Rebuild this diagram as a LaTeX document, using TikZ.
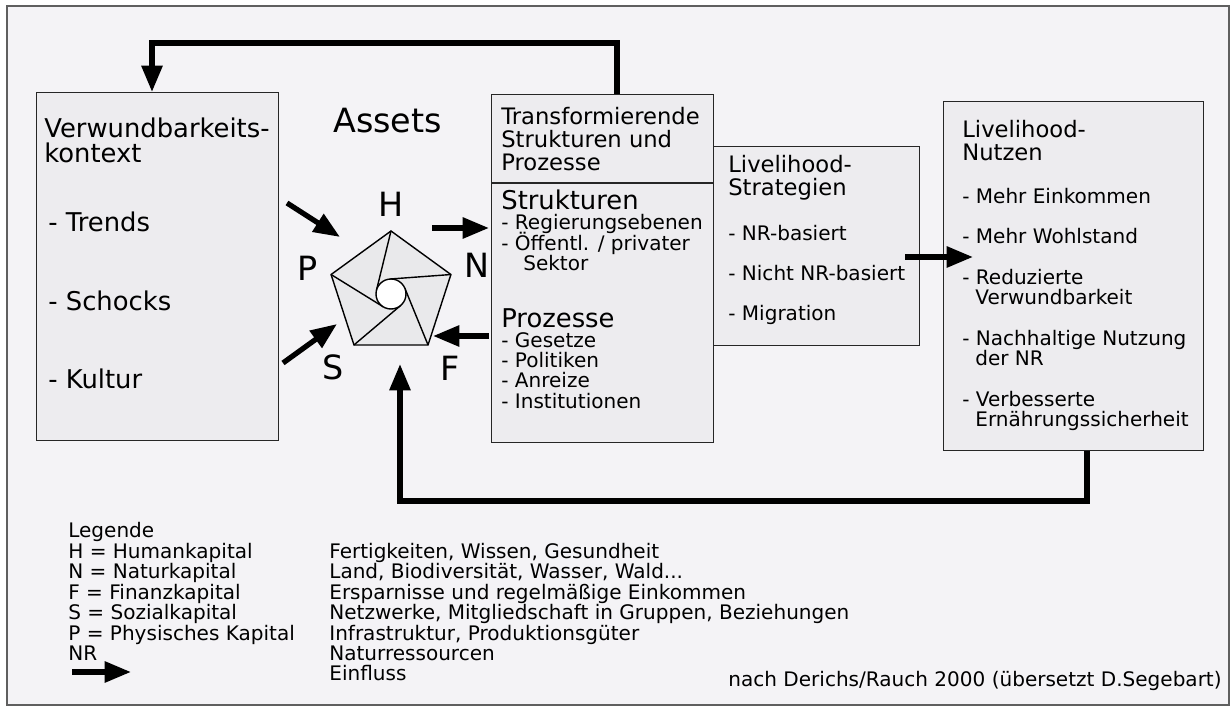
\documentclass[tikz,border=0pt]{standalone}
\usepackage{fontspec}
\setmainfont{DejaVu Sans}
\usetikzlibrary{arrows.meta,calc}

\definecolor{bgcol}{RGB}{244,243,246}
\definecolor{boxcol}{RGB}{237,236,239}
\definecolor{pentcol}{RGB}{233,233,235}
\definecolor{framecol}{RGB}{95,95,95}

\newcommand{\txtS}{\fontsize{11.4}{12}\selectfont}
\newcommand{\txtM}{\fontsize{12.9}{13.5}\selectfont}
\newcommand{\txtL}{\fontsize{14.7}{15.5}\selectfont}
\newcommand{\txtXL}{\fontsize{19}{20}\selectfont}

\tikzset{
  box/.style={draw=black!85, fill=boxcol, line width=0.6pt, anchor=north west, inner sep=0pt},
  txt/.style={anchor=base west, inner sep=0pt, font=\txtS},
  head/.style={txt, font=\txtM},
  big/.style={txt, font=\txtL},
  capital/.style={inner sep=0pt, font=\txtXL},
  arr/.style={line width=3pt, -{Triangle[length=15pt,width=11.5pt]}},
}

\begin{document}
\begin{tikzpicture}[x=0.02cm,y=0.02cm]
  % background and frame
  \fill[white] (0,0) rectangle (1232,-709);
  \draw[framecol, fill=bgcol, line width=1pt] (7,-6) rectangle (1229,-705);

  % boxes
  \node[box, minimum width=4.84cm, minimum height=6.96cm] (V) at (36,-92) {};
  \node[box, minimum width=4.44cm, minimum height=6.96cm] (T) at (491,-94) {};
  \node[box, minimum width=4.12cm, minimum height=3.98cm] (L) at (713,-146) {};
  \node[box, minimum width=5.20cm, minimum height=6.98cm] (B) at (943,-101) {};
  \coordinate (divy) at (0,-183);
  \draw[black!85, line width=0.6pt] (T.west |- divy) -- (T.east |- divy);

  % Verwundbarkeitskontext
  \node[big] (v1) at (44,-138) {Verwundbarkeits-};
  \node[big] (v2) at (44,-163) {kontext};
  \node[big] (v3) at (48,-232) {- Trends};
  \node[big] (v4) at (48,-311) {- Schocks};
  \node[big] (v5) at (48,-389) {- Kultur};

  % Assets
  \node[txt, font=\txtXL] (assets) at (333,-133) {Assets};

  % Transformierende Strukturen und Prozesse
  \node[head] (t1) at (501,-125) {Transformierende};
  \node[head] (t2) at (501,-148) {Strukturen und};
  \node[head] (t3) at (501,-171) {Prozesse};
  \node[big] (t4) at (501,-210) {Strukturen};
  \node[txt] (t5) at (501,-230) {- Regierungsebenen};
  \node[txt] (t6) at (501,-251) {- Öffentl. / privater};
  \node[txt] (t7) at (523,-271) {Sektor};
  \node[big] (t8) at (501,-328) {Prozesse};
  \node[txt] (t9) at (501,-348) {- Gesetze};
  \node[txt] (t10) at (501,-368) {- Politiken};
  \node[txt] (t11) at (501,-388) {- Anreize};
  \node[txt] (t12) at (501,-409) {- Institutionen};

  % Livelihood-Strategien
  \node[head] (s1) at (728,-173) {Livelihood-};
  \node[head] (s2) at (728,-196) {Strategien};
  \node[txt] (s3) at (728,-241) {- NR-basiert};
  \node[txt] (s4) at (728,-281) {- Nicht NR-basiert};
  \node[txt] (s5) at (728,-321) {- Migration};

  % Livelihood-Nutzen
  \node[head] (n1) at (962,-138) {Livelihood-};
  \node[head] (n2) at (962,-161) {Nutzen};
  \node[txt] (n3) at (962,-204) {- Mehr Einkommen};
  \node[txt] (n4) at (962,-244) {- Mehr Wohlstand};
  \node[txt] (n5) at (962,-285) {- Reduzierte};
  \node[txt] (n6) at (975,-305) {Verwundbarkeit};
  \node[txt] (n7) at (962,-346) {- Nachhaltige Nutzung};
  \node[txt] (n8) at (975,-366) {der NR};
  \node[txt] (n9) at (962,-407) {- Verbesserte};
  \node[txt] (n10) at (975,-427) {Ernährungssicherheit};

  % pentagon
  \coordinate (C) at (391,-294);
  \foreach \a/\n in {90/H,18/N,-54/F,-126/S,162/P}
    \coordinate (p\n) at ($(C)+(\a:63)$);
  \fill[pentcol] (pH) -- (pN) -- (pF) -- (pS) -- (pP) -- cycle;
  \foreach \a in {90,18,-54,-126,162}
    \draw[line width=0.8pt] ($(C)+(\a:63)$) -- ($(C)+(\a+76.2:15)$);
  \draw[line width=0.8pt] (pH) -- (pN) -- (pF) -- (pS) -- (pP) -- cycle;
  \draw[line width=0.8pt, fill=white] (C) circle (15);
  \node[capital] (lH) at (391,-204) {H};
  \node[capital] (lN) at (477,-265) {N};
  \node[capital] (lF) at (450,-368) {F};
  \node[capital] (lS) at (333,-367) {S};
  \node[capital] (lP) at (308,-268) {P};

  % influence arrows
  \coordinate (inA) at (287,-203);
  \coordinate (inAt) at (340,-237);
  \coordinate (inB) at (283,-363);
  \coordinate (inBt) at (337,-324);
  \coordinate (outN) at (432,-228);
  \coordinate (outNt) at (489,-228);
  \coordinate (inF) at (489,-336);
  \coordinate (inFt) at (433,-336);
  \coordinate (strOut) at (905,-257);
  \coordinate (nutzIn) at (973,-257);
  \draw[arr] (inA) -- (inAt);
  \draw[arr] (inB) -- (inBt);
  \draw[arr] (outN) -- (outNt);
  \draw[arr] (inF) -- (inFt);
  \draw[arr] (strOut) -- (nutzIn);

  % feedback loops
  \coordinate (fbTop) at (617,-43);
  \coordinate (fbTopL) at (152,-43);
  \coordinate (fbBot) at (1087,-501);
  \coordinate (fbBotL) at (400,-501);
  \coordinate (pentIn) at (400,-364);
  \draw[arr] (T.north -| fbTop) -- (fbTop) -- (fbTopL) -- (V.north -| fbTopL);
  \draw[arr] (B.south -| fbBot) -- (fbBot) -- (fbBotL) -- (pentIn);

  % legend
  \node[txt] (g0) at (68,-538) {Legende};
  \node[txt] (g1) at (68,-559) {H = Humankapital};
  \node[txt] (g2) at (68,-579) {N = Naturkapital};
  \node[txt] (g3) at (68,-600) {F = Finanzkapital};
  \node[txt] (g4) at (68,-620) {S = Sozialkapital};
  \node[txt] (g5) at (68,-641) {P = Physisches Kapital};
  \node[txt] (g6) at (68,-661) {NR};
  \node[txt] (d1) at (329,-559) {Fertigkeiten, Wissen, Gesundheit};
  \node[txt] (d2) at (329,-579) {Land, Biodiversität, Wasser, Wald...};
  \node[txt] (d3) at (329,-600) {Ersparnisse und regelmäßige Einkommen};
  \node[txt] (d4) at (329,-620) {Netzwerke, Mitgliedschaft in Gruppen, Beziehungen};
  \node[txt] (d5) at (329,-641) {Infrastruktur, Produktionsgüter};
  \node[txt] (d6) at (329,-661) {Naturressourcen};
  \node[txt] (d7) at (329,-681) {Einfluss};
  \coordinate (legA) at (72,-672);
  \coordinate (legAt) at (131,-672);
  \draw[arr] (legA) -- (legAt);

  \node[txt, anchor=base east] (credit) at (1222,-687) {nach Derichs/Rauch 2000 (übersetzt D.Segebart)};
\end{tikzpicture}
\end{document}
